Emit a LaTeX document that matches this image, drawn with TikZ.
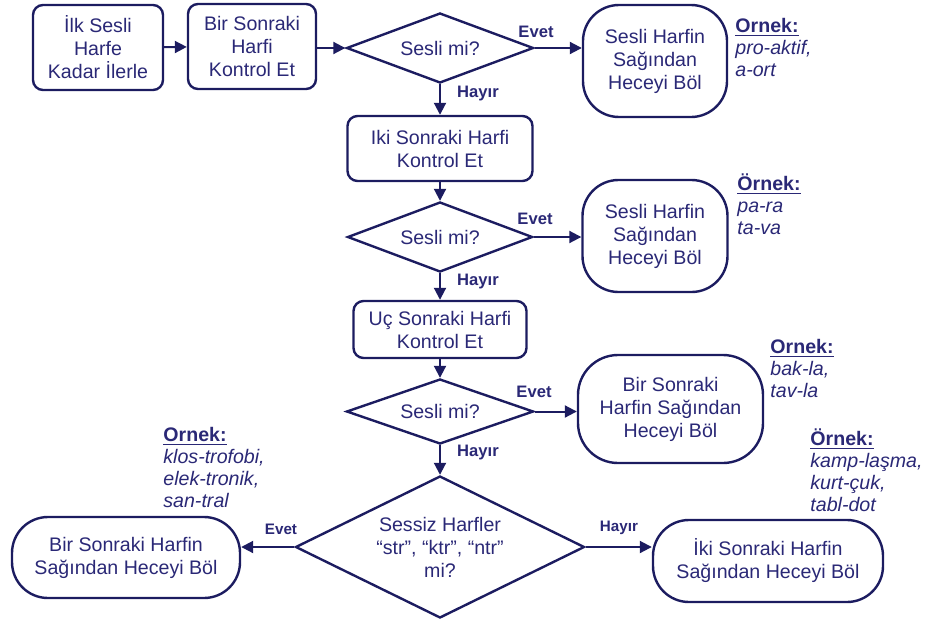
\documentclass[tikz,border=0pt]{standalone}
\usepackage{fontspec}
\setmainfont{Liberation Sans}
\usetikzlibrary{arrows.meta,shapes.geometric}

\definecolor{linenavy}{RGB}{28,28,96}
\definecolor{textnavy}{RGB}{42,40,118}

\begin{document}
\begin{tikzpicture}[
  x=0.5pt, y=-0.5pt,
  font=\fontsize{9.8}{11.5}\selectfont,
  text=textnavy,
  box/.style={draw=linenavy, line width=1.2pt, rounded corners=5pt,
    align=center, inner sep=0pt},
  split/.style={box, rounded corners=18pt},
  test/.style={draw=linenavy, line width=1.2pt, diamond, aspect=2,
    align=center, inner sep=0pt},
  flow/.style={-{Triangle[length=6pt, width=6pt]}, line width=1pt,
    draw=linenavy},
  lbl/.style={font=\fontsize{8.3}{10}\selectfont\bfseries, inner sep=0pt},
  example/.style={align=left, anchor=base west, inner sep=0pt,
    font=\fontsize{9.8}{11}\selectfont}
]
  \useasboundingbox (0,0) rectangle (925,621);

  % main chain
  \node[box, minimum width=65pt, minimum height=42.5pt] (start) at (98,47.5)
    {İlk Sesli\\Harfe\\Kadar İlerle};
  \node[box, minimum width=64pt, minimum height=42.5pt] (next1) at (252,46.5)
    {Bir Sonraki\\Harfi\\Kontrol Et};
  \node[test, minimum width=93.5pt, minimum height=35pt] (vowel1) at (440,48)
    {Sesli mi?};
  \node[split, minimum width=72pt, minimum height=56pt] (split1) at (655,61)
    {Sesli Harfin\\Sağından\\Heceyi Böl};

  \node[box, minimum width=92.5pt, minimum height=32.5pt] (next2) at (440,148.5)
    {Iki Sonraki Harfi\\Kontrol Et};
  \node[test, minimum width=92.5pt, minimum height=35pt] (vowel2) at (440,237)
    {Sesli mi?};
  \node[split, minimum width=72.5pt, minimum height=56pt] (split2) at (655,236)
    {Sesli Harfin\\Sağından\\Heceyi Böl};

  \node[box, minimum width=86.5pt, minimum height=28.5pt] (next3) at (440,329.5)
    {Uç Sonraki Harfi\\Kontrol Et};
  \node[test, minimum width=93.5pt, minimum height=32.5pt] (vowel3) at (440,411.5)
    {Sesli mi?};
  \node[split, rounded corners=20pt, minimum width=92.5pt, minimum height=54pt]
    (split3) at (670.5,409) {Bir Sonraki\\Harfin Sağından\\Heceyi Böl};

  \node[test, minimum width=144.5pt, minimum height=71pt] (cluster) at (440,547)
    {Sessiz Harfler\\“str”, “ktr”, “ntr”\\mi?};
  \node[split, minimum width=114pt, minimum height=40.5pt] (splitL) at (126,557.5)
    {Bir Sonraki Harfin\\Sağından Heceyi Böl};
  \node[split, minimum width=115pt, minimum height=41pt] (splitR) at (768,561)
    {İki Sonraki Harfin\\Sağından Heceyi Böl};

  % connectors
  \draw[flow] (start) -- (next1);
  \draw[flow] (next1.east |- vowel1) -- (vowel1.west);
  \draw[flow] (vowel1.east) -- (vowel1.east -| split1.west);
  \draw[flow] (vowel1) -- (next2);
  \draw[flow] (next2) -- (vowel2);
  \draw[flow] (vowel2.east) -- (vowel2.east -| split2.west);
  \draw[flow] (vowel2) -- (next3);
  \draw[flow] (next3) -- (vowel3);
  \draw[flow] (vowel3.east) -- (vowel3.east -| split3.west);
  \draw[flow] (vowel3) -- (cluster);
  \draw[flow] (cluster.west) -- (cluster.west -| splitL.east);
  \draw[flow] (cluster.east) -- (cluster.east -| splitR.west);

  % branch labels
  \node[lbl] (yes1) at (536,32) {Evet};
  \node[lbl] (no1) at (478,94) {Hayır};
  \node[lbl] (yes2) at (535,219) {Evet};
  \node[lbl] (no2) at (478,282) {Hayır};
  \node[lbl] (yes3) at (534,392) {Evet};
  \node[lbl] (no3) at (478,453) {Hayır};
  \node[lbl, font=\fontsize{7.6}{9}\selectfont\bfseries] (yes4) at (281,529) {Evet};
  \node[lbl, font=\fontsize{7.6}{9}\selectfont\bfseries] (no4) at (619,528) {Hayır};

  % examples (placed by the baseline of their last line)
  \node[example] (ex1) at (735,76)
    {\underline{\textbf{Ornek:}}\\\textit{pro-aktif,}\\\textit{a-ort}};
  \node[example] (ex2) at (737,234)
    {\underline{\textbf{Örnek:}}\\\textit{pa-ra}\\\textit{ta-va}};
  \node[example] (ex3) at (770,397)
    {\underline{\textbf{Ornek:}}\\\textit{bak-la,}\\\textit{tav-la}};
  \node[example] (ex4) at (163,507)
    {\underline{\textbf{Ornek:}}\\\textit{klos-trofobi,}\\\textit{elek-tronik,}\\\textit{san-tral}};
  \node[example] (ex5) at (810,511)
    {\underline{\textbf{Örnek:}}\\\textit{kamp-laşma,}\\\textit{kurt-çuk,}\\\textit{tabl-dot}};
\end{tikzpicture}
\end{document}
